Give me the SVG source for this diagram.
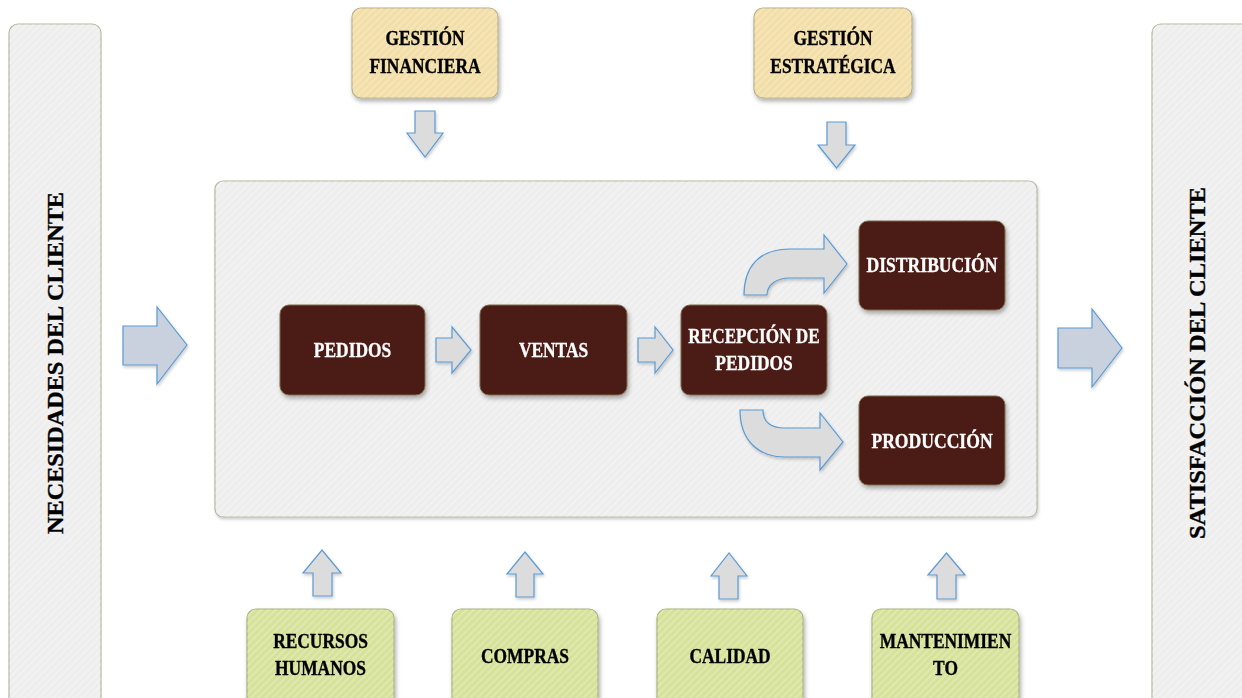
<svg xmlns="http://www.w3.org/2000/svg" width="1242" height="698" viewBox="0 0 1242 698">
  <defs>
    <filter id="shadow" x="-10%" y="-10%" width="130%" height="140%">
      <feDropShadow dx="1.5" dy="3" stdDeviation="2" flood-color="#000" flood-opacity="0.3"/>
    </filter>
    <filter id="soft" x="-10%" y="-10%" width="130%" height="140%">
      <feDropShadow dx="1" dy="2" stdDeviation="1.5" flood-color="#000" flood-opacity="0.2"/>
    </filter>
    <pattern id="hatch" width="5" height="5" patternUnits="userSpaceOnUse" patternTransform="rotate(-45)">
      <rect width="5" height="2" fill="#ffffff" opacity="0.22"/>
    </pattern>
    <style>
      .panel { fill: #eeeeee; stroke: #b3b79c; stroke-width: 1.2; }
      .tan { fill: #f2dea6; stroke: #b4b08a; stroke-width: 1.2; }
      .green { fill: #d6e299; stroke: #a8b07f; stroke-width: 1.2; }
      .dark { fill: #4c1b17; stroke: #7b6a48; stroke-width: 1; }
      .tex { fill: url(#hatch); stroke: none; }
      .arrow { fill: #dcdcdc; stroke: #5b9bd5; stroke-width: 1.2; stroke-linejoin: miter; }
      .big { fill: #c9d1df; stroke: #5b9bd5; stroke-width: 1.2; }
      text { font-family: "Liberation Serif", "Times New Roman", serif; font-weight: bold; text-anchor: middle; }
      .lbl { font-size: 20px; fill: #000; stroke: #000; stroke-width: 0.35; }
      .wlbl { font-size: 20px; fill: #ffffff; stroke: #ffffff; stroke-width: 0.3; }
      .vert { font-size: 23px; fill: #000; stroke: #000; stroke-width: 0.35; }
    </style>
  </defs>

  <rect width="1242" height="698" fill="#ffffff"/>

  <!-- side columns -->
  <g id="necesidades">
    <rect class="panel" x="9" y="24" width="92" height="700" rx="9"/>
    <rect class="tex" x="9" y="24" width="92" height="700" rx="9"/>
    <text class="vert" transform="translate(63,363) rotate(-90)" textLength="342" lengthAdjust="spacingAndGlyphs">NECESIDADES DEL  CLIENTE</text>
  </g>
  <g id="satisfaccion">
    <rect class="panel" x="1152" y="24" width="100" height="700" rx="9"/>
    <rect class="tex" x="1152" y="24" width="100" height="700" rx="9"/>
    <text class="vert" transform="translate(1205,363) rotate(-90)" textLength="352" lengthAdjust="spacingAndGlyphs">SATISFACCIÓN DEL  CLIENTE</text>
  </g>

  <!-- central process area -->
  <g id="proceso">
    <rect class="panel" x="215" y="181" width="822" height="336" rx="8" filter="url(#soft)"/>
    <rect class="tex" x="215" y="181" width="822" height="336" rx="8"/>
  </g>

  <!-- management boxes -->
  <g id="gestion-financiera" filter="url(#shadow)">
    <rect class="tan" x="352" y="8" width="146" height="90" rx="9"/>
    <rect class="tex" x="352" y="8" width="146" height="90" rx="9"/>
    <text class="lbl" transform="translate(425,45) scale(0.87,1)">GESTIÓN</text>
    <text class="lbl" transform="translate(425,73) scale(0.87,1)">FINANCIERA</text>
  </g>
  <g id="gestion-estrategica" filter="url(#shadow)">
    <rect class="tan" x="754" y="8" width="158" height="90" rx="9"/>
    <rect class="tex" x="754" y="8" width="158" height="90" rx="9"/>
    <text class="lbl" transform="translate(833,45) scale(0.87,1)">GESTIÓN</text>
    <text class="lbl" transform="translate(833,73) scale(0.87,1)">ESTRATÉGICA</text>
  </g>

  <!-- process steps -->
  <g id="pedidos" filter="url(#shadow)">
    <rect class="dark" x="280" y="305" width="145" height="90" rx="9"/>
    <text class="wlbl" transform="translate(352.5,357) scale(0.87,1)">PEDIDOS</text>
  </g>
  <g id="ventas" filter="url(#shadow)">
    <rect class="dark" x="480" y="305" width="147" height="90" rx="9"/>
    <text class="wlbl" transform="translate(553.5,357) scale(0.87,1)">VENTAS</text>
  </g>
  <g id="recepcion" filter="url(#shadow)">
    <rect class="dark" x="681" y="305" width="146" height="90" rx="9"/>
    <text class="wlbl" transform="translate(754,343) scale(0.86,1)">RECEPCIÓN DE</text>
    <text class="wlbl" transform="translate(754,370) scale(0.87,1)">PEDIDOS</text>
  </g>
  <g id="distribucion" filter="url(#shadow)">
    <rect class="dark" x="859" y="221" width="146" height="89" rx="9"/>
    <text class="wlbl" transform="translate(932,272) scale(0.88,1)">DISTRIBUCIÓN</text>
  </g>
  <g id="produccion" filter="url(#shadow)">
    <rect class="dark" x="859" y="396" width="146" height="89" rx="9"/>
    <text class="wlbl" transform="translate(932,448) scale(0.88,1)">PRODUCCIÓN</text>
  </g>

  <!-- support areas -->
  <g id="recursos-humanos" filter="url(#shadow)">
    <rect class="green" x="247" y="609" width="147" height="110" rx="9"/>
    <rect class="tex" x="247" y="609" width="147" height="110" rx="9"/>
    <text class="lbl" transform="translate(320.5,648) scale(0.87,1)">RECURSOS</text>
    <text class="lbl" transform="translate(320.5,675) scale(0.87,1)">HUMANOS</text>
  </g>
  <g id="compras" filter="url(#shadow)">
    <rect class="green" x="452" y="609" width="146" height="110" rx="9"/>
    <rect class="tex" x="452" y="609" width="146" height="110" rx="9"/>
    <text class="lbl" transform="translate(525,663) scale(0.87,1)">COMPRAS</text>
  </g>
  <g id="calidad" filter="url(#shadow)">
    <rect class="green" x="657" y="609" width="146" height="110" rx="9"/>
    <rect class="tex" x="657" y="609" width="146" height="110" rx="9"/>
    <text class="lbl" transform="translate(730,663) scale(0.87,1)">CALIDAD</text>
  </g>
  <g id="mantenimiento" filter="url(#shadow)">
    <rect class="green" x="872" y="609" width="147" height="110" rx="9"/>
    <rect class="tex" x="872" y="609" width="147" height="110" rx="9"/>
    <text class="lbl" transform="translate(945.5,648) scale(0.87,1)">MANTENIMIEN</text>
    <text class="lbl" transform="translate(945.5,675) scale(0.87,1)">TO</text>
  </g>

  <!-- connectors: block arrows -->
  <g id="connectors" filter="url(#soft)">
    <!-- customer in / out -->
    <path class="big" d="M123,326 H157 V307 L187,345 L157,384 V365 H123 Z"/>
    <path class="big" d="M1058,328 H1092 V309 L1122,348 L1092,387 V368 H1058 Z"/>
    <!-- management inputs -->
    <path class="arrow" d="M415,111 H435 V133 H443 L425,157 L407,133 H415 Z"/>
    <path class="arrow" d="M827,122 H846 V145 H855 L836.5,168 L818,145 H827 Z"/>
    <!-- process flow -->
    <path class="arrow" d="M436,338 H452 V327 L471,350 L452,373 V362 H436 Z"/>
    <path class="arrow" d="M638,338 H655 V327 L673,350 L655,373 V362 H638 Z"/>
    <path class="arrow" d="M744,295 C744,268 758,249 790,249 L824,249 L824,235 L847,264 L824,293 L824,278 L790,278 C776,278 767,285 767,295 Z"/>
    <path class="arrow" d="M740,410 L763,410 C763,421 770,428 785,428 L820,428 L820,413 L843,442 L820,470 L820,457 L785,457 C758,457 740,440 740,410 Z"/>
    <!-- support inputs -->
    <path class="arrow" d="M313,596 V573 H303 L322,550 L341,573 H332 V596 Z"/>
    <path class="arrow" d="M516,597 V574 H507 L525,552 L543,574 H534 V597 Z"/>
    <path class="arrow" d="M719,599 V576 H711 L729,553 L747,576 H738 V599 Z"/>
    <path class="arrow" d="M937,599 V575 H928 L946.5,553 L965,575 H956 V599 Z"/>
  </g>
</svg>
